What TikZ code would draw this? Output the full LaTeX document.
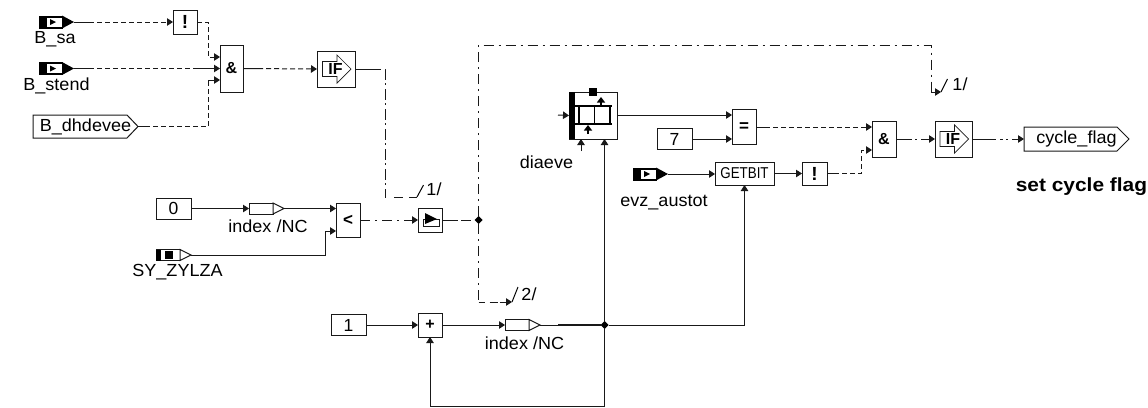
\documentclass[tikz,border=0pt]{standalone}
\usepackage{graphicx}
\usepackage{fontspec}
\setmainfont{Liberation Sans}
\usetikzlibrary{arrows.meta,shapes.geometric}
\newcommand{\lbl}[1]{\scalebox{1.03}[1]{#1}}
\newcommand{\pinA}[3]{% name, left x, mid y
  \node[pinbox] (#1) at (#2+17.5,#3) {};
  \fill[black] (#2,#3-6.5) rectangle (#2+24,#3+6.5);
  \fill[white] (#2+8,#3-4.5) rectangle (#2+23,#3+4.5);
  \fill[black] (#2+11,#3-3) -- (#2+17,#3) -- (#2+11,#3+3) -- cycle;
  \fill[black] (#2+23,#3-6.5) -- (#2+35,#3) -- (#2+23,#3+6.5) -- cycle;
}
\newcommand{\pinO}[3]{% name, left x, mid y: open pin
  \node[pinbox] (#1) at (#2+17.5,#3) {};
  \draw[wire,fill=white] (#2,#3-5.5) rectangle (#2+24,#3+5.5);
  \draw[wire,fill=white] (#2+24,#3-5.5) -- (#2+35,#3) -- (#2+24,#3+5.5) -- cycle;
}
\newcommand{\pinS}[3]{% name, left x, mid y: system constant pin
  \pinO{#1}{#2}{#3}
  \fill[black] (#2,#3-5.5) rectangle (#2+5,#3+5.5);
  \fill[black] (#2+9,#3-4) rectangle (#2+17,#3+4);
}
\newcommand{\tagbox}[7]{% name, x0, shoulder, tip, ytop, ybot, text
  \draw[wire,fill=white] (#2,#5) -- (#3,#5) -- (#4,#5/2+#6/2) -- (#3,#6) -- (#2,#6) -- cycle;
  \node[tagn,minimum width=#4pt-#2pt,minimum height=#6pt-#5pt] (#1) at (#2/2+#4/2,#5/2+#6/2) {#7};
}
\tikzset{
  x=1pt,y=-1pt,
  wire/.style={line width=1pt,draw=black!90},
  pinbox/.style={rectangle,minimum width=35pt,minimum height=12pt,inner sep=0pt,outer sep=0pt},
  tagn/.style={rectangle,inner sep=0pt,outer sep=0pt,font=\fontsize{17.5}{18}\selectfont},
  blk/.style={wire,rectangle,fill=white,inner sep=0pt,outer sep=0pt,font=\fontsize{16}{16}\selectfont\bfseries},
  numbox/.style={blk,minimum width=35pt,minimum height=21pt,font=\fontsize{17.5}{17}\selectfont},
  sig/.style={wire,-{Triangle[length=6pt,width=7.5pt]}},
  dsh/.style={dash pattern=on #1pt off 3pt on 5pt off 3pt on 5pt off 3pt on 5pt off 3pt on 5pt off 3pt on 5pt off 3pt on 5pt off 3pt on 5pt off 3pt on 5pt off 3pt on 5pt off 3pt on 5pt off 3pt on 5pt off 3pt on 5pt off 3pt on 60pt off 1pt},
  dsh/.default=20,
  txt/.style={inner sep=0pt,outer sep=0pt,font=\fontsize{17.5}{18}\selectfont},
  slashl/.style={line width=1pt},
  jn/.style={diamond,fill=black,inner sep=0pt,minimum size=8pt,outer sep=0pt},
}
\begin{document}
\begin{tikzpicture}
\useasboundingbox (0,0) rectangle (1148,407);
% --- blocks
\pinA{bsa}{39}{22}
\pinA{bstend}{39}{68.5}
\tagbox{bdh}{33}{127}{138}{115}{138}{\lbl{B\_dhdevee}\hspace{4pt}}
\node[blk,minimum width=24pt,minimum height=24pt,font=\fontsize{19}{19}\selectfont\bfseries] (notA) at (185,22) {!};
\node[blk,minimum width=23pt,minimum height=47pt] (andA) at (231.5,68.5) {\&};
\node[blk,minimum width=38pt,minimum height=36pt] (ifA) at (336,69) {};
\node[numbox] (zero) at (173.5,208.5) {0};
\pinO{idxA}{249}{208.5}
\pinS{syz}{156}{255}
\node[blk,minimum width=24pt,minimum height=34pt,font=\fontsize{17}{17}\selectfont\bfseries] (lt) at (348,220) {<};
\node[blk,minimum width=24pt,minimum height=24pt] (sw) at (430,220) {};
\node[jn] (jA) at (478.5,220) {};
\node[numbox] (one) at (348.5,325) {1};
\node[blk,minimum width=24pt,minimum height=24pt] (plus) at (430,325) {+};
\pinO{idxB}{505}{325}
\node[jn] (jB) at (604.5,325) {};
\node[blk,minimum width=48pt,minimum height=47pt] (dia) at (593,115.5) {};
\node[numbox] (seven) at (674.5,139) {7};
\node[blk,minimum width=24pt,minimum height=35pt,font=\fontsize{17}{17}\selectfont\bfseries] (eq) at (744,127) {=};
\pinA{evz}{633}{174}
\node[wire,rectangle,fill=white,inner sep=0pt,outer sep=0pt,minimum width=59pt,minimum height=23pt] (getbit) at (744.5,173.5) {\scalebox{0.85}[1]{\fontsize{15.7}{16}\selectfont GETBIT}};
\node[blk,minimum width=25pt,minimum height=23pt,font=\fontsize{19}{19}\selectfont\bfseries] (notB) at (814.5,173.5) {!};
\node[blk,minimum width=24pt,minimum height=36pt] (andB) at (884,139) {\&};
\node[blk,minimum width=37pt,minimum height=36pt] (ifB) at (953.5,139) {};
\tagbox{cyc}{1024}{1117}{1129}{127}{151}{\lbl{cycle\_flag}\hspace{3pt}}
% --- IF glyphs
\foreach \n in {ifA,ifB}{
  \draw[wire,line width=0.7pt,fill=white] ([shift={(-13.5,7.5)}]\n.center) -- ([shift={(1,7.5)}]\n.center) -- ([shift={(1,14)}]\n.center) -- ([shift={(15,0)}]\n.center) -- ([shift={(1,-14)}]\n.center) -- ([shift={(1,-7.5)}]\n.center) -- ([shift={(-13.5,-7.5)}]\n.center) -- cycle;
  \node[inner sep=0pt,font=\fontsize{16}{16}\selectfont\bfseries] (\n t) at ([shift={(-0.5,0)}]\n.center) {IF};
}
% --- switch glyph
\draw[wire,fill=white] ([shift={(-7,-1)}]sw.center) rectangle ([shift={(9,6.7)}]sw.center);
\fill[black] ([shift={(-5,-7)}]sw.center) -- ([shift={(7,-1)}]sw.center) -- ([shift={(-5,4)}]sw.center) -- cycle;
% --- diaeve glyph
\fill[black] (569,92) rectangle (574.5,139);
\fill[black] (589,88) rectangle (597,96);
\draw[line width=1.6pt] (574,106) -- (612,106) (574,124) -- (612,124);
\draw[line width=1.6pt] (579,106) -- (579,124) (594.5,106) -- (594.5,124) (610,106) -- (610,124);
\draw[line width=1.4pt,-{Triangle[length=5.5pt,width=8pt]}] (588,134) -- (588,125);
\draw[line width=1.4pt,-{Triangle[length=5.5pt,width=8pt]}] (601,106) -- (601,97);
\coordinate (diaL) at (558,115);
\coordinate (diaB) at (581,151);
\draw[sig] (diaL) -- (dia.west);
\draw[sig] (diaB) -- (dia.south -| diaB);
% --- labels
\node[txt] (tsa) at (55,39.5) {\lbl{B\_sa}};
\node[txt] (tst) at (56.5,85.5) {\lbl{B\_stend}};
\node[txt] (tia) at (268,226.5) {\lbl{index /NC}};
\node[txt] (tsy) at (177.5,272.5) {\lbl{SY\_ZYLZA}};
\node[txt] (tib) at (524.5,343.5) {\lbl{index /NC}};
\node[txt] (tdi) at (546.5,162) {\lbl{diaeve}};
\node[txt] (tev) at (664,203) {\lbl{evz\_austot}};
\node[inner sep=0pt,font=\fontsize{19}{19}\selectfont\bfseries] (tset) at (1081.5,187) {\scalebox{1.1}[1]{set cycle flag}};
% --- off-page markers
\coordinate (mA) at (417,197);
\coordinate (mB) at (941,92);
\coordinate (mC) at (512,302);
\draw[slashl] (mA) -- ++(6.5,-12);
\draw[slashl] (mB) -- ++(6.5,-13);
\draw[slashl] (mC) -- ++(6,-15);
\node[txt] (n1a) at (434,189) {\lbl{1/}};
\node[txt] (n1b) at (960,84) {\lbl{1/}};
\node[txt] (n2) at (529,294) {\lbl{2/}};
% --- dashed signals
\draw[sig,dsh=20] (bsa.east) -- (notA.west);
\draw[sig,dsh=5] (notA.east) -- (208,22) |- ([yshift=11.5pt]andA.west);
\draw[sig,dsh=20] (bstend.east) -- (andA.west);
\draw[sig,dsh=12] (bdh.east) -- (208,126.5) |- ([yshift=-11.5pt]andA.west);
\draw[sig,dsh=20] (andA.east) -- (ifA.west);
\draw[wire,dash pattern=on 26pt off 4pt on 11pt off 3pt on 2pt off 4pt on 11pt off 3pt on 2pt off 4pt on 11pt off 3pt on 2pt off 4pt on 11pt off 3pt on 2pt off 4pt on 11pt off 3pt on 2pt off 4pt on 11pt off 3pt on 2pt off 4pt on 9pt off 8pt on 9pt off 6pt on 12pt] (ifA.east) -- (385,69) -- (385,197) -- (mA);
\draw[sig] (idxA.east) -- (lt.west |- idxA.east);
\draw[sig,dash pattern=on 10pt off 5pt on 2pt off 5pt on 10pt off 5pt on 2pt off 5pt on 20pt] (lt.east) -- (sw.west);
\draw[wire,dash pattern=on 16pt off 3pt on 10pt off 4pt] (sw.east) -- (jA);
\draw[wire,dash pattern=on 10pt off 5pt on 2pt off 5pt] (jA) |- (931,45) -- (931,92);
\draw[sig] (931,92) -- (mB);
\draw[wire,dash pattern=on 10pt off 5pt on 2pt off 5pt] (jA) -- (478.5,302);
\draw[sig,dash pattern=on 6pt off 5pt on 8pt off 2pt on 30pt] (478.5,302) -- (mC);
% --- solid signals
\draw[sig] (zero.east) -- (idxA.west);
\draw[sig] (syz.east) -- (325,255) |- ([yshift=-11pt]lt.west);
\draw[sig] (one.east) -- (plus.west);
\draw[sig] (plus.east) -- (idxB.west);
\draw[wire] (idxB.east) -- (jB);
\draw[wire,line width=1.3pt] (558,325) -- (jB);
\draw[sig] (jB) -- (604.5,139);
\draw[sig] (jB) -- (604.5,406) -- (430,406) -- (plus.south);
\draw[sig] (jB) -| (getbit.south);
\draw[sig] (617,115) -- (eq.west |- 0,115);
\draw[sig] (seven.east) -- (eq.west |- seven.east);
\draw[sig,dsh=14] (eq.east) -- (andB.west |- eq.east);
\draw[sig] (evz.east) -- (getbit.west |- evz.east);
\draw[sig] (getbit.east) -- (notB.west);
\draw[sig,dsh=12] (notB.east) -- (861,173.5) |- ([yshift=-11pt]andB.west);
\draw[sig,dash pattern=on 16pt off 3pt on 2pt off 4pt on 40pt] (andB.east) -- (ifB.west);
\draw[sig,dash pattern=on 24pt off 4pt on 3pt off 3pt on 2pt off 4pt on 40pt] (ifB.east) -- (cyc.west);
\end{tikzpicture}
\end{document}
